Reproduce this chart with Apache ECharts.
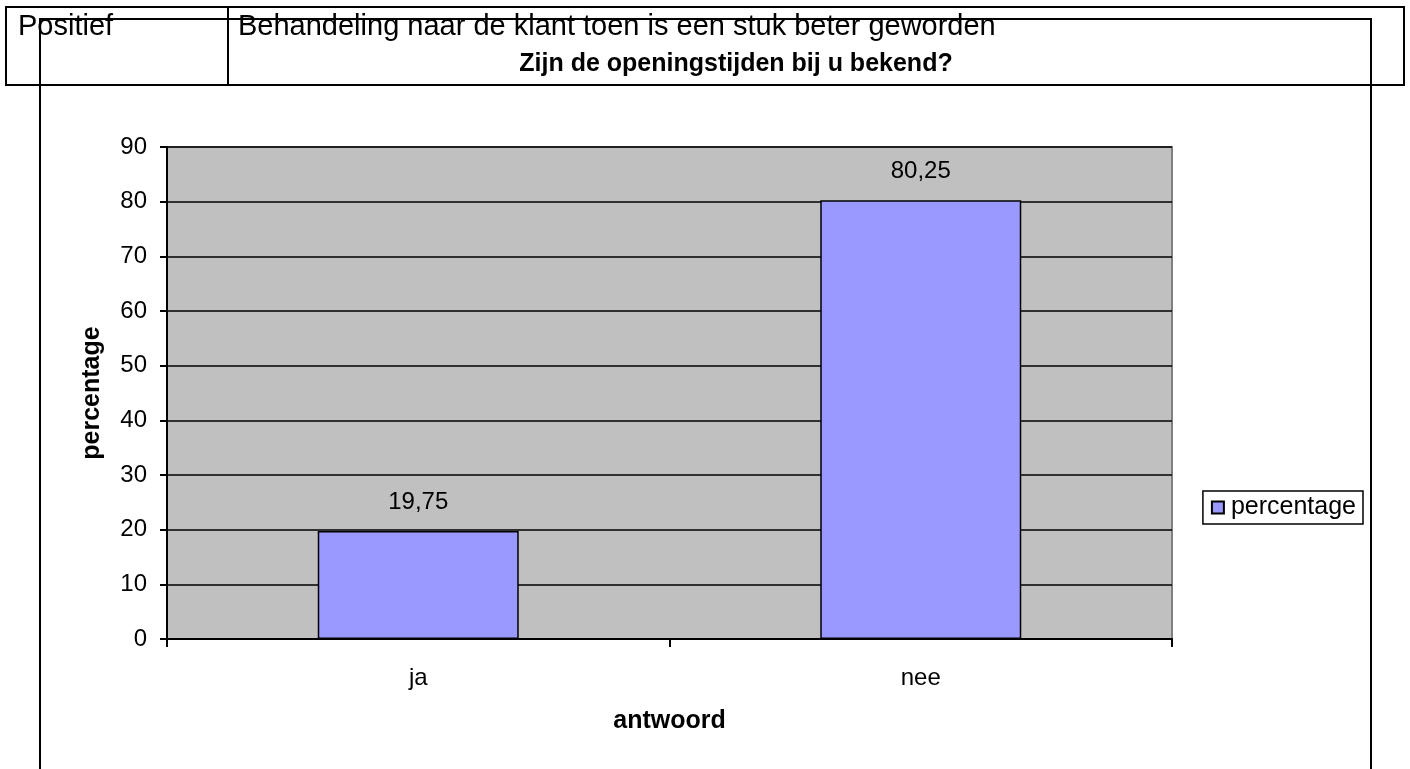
<!DOCTYPE html>
<html>
<head>
<meta charset="utf-8">
<script src="https://cdn.jsdelivr.net/npm/echarts@6/dist/echarts.min.js"></script>
<style>
  html, body { margin: 0; padding: 0; background: #fff; }
  #chart { width: 1410px; height: 769px; }
</style>
</head>
<body>
<div id="chart"></div>
<script>
// data
const categories = ['ja', 'nee'];
const percentages = [19.75, 80.25];
const seriesName = 'percentage';
const titleText = 'Zijn de openingstijden bij u bekend?';
const headerLeft = 'Positief';
const headerRight = 'Behandeling naar de klant toen is een stuk beter geworden';

const FONT = '"Liberation Sans", Arial, sans-serif';

const chart = echarts.init(document.getElementById('chart'), null, { renderer: 'canvas' });

chart.setOption({
  backgroundColor: '#fff',
  animation: false,
  textStyle: { fontFamily: FONT, color: '#000' },
  graphic: [
    // table row on top
    { type: 'rect', z: 1, shape: { x: 6, y: 7, width: 1398, height: 78 },
      style: { fill: 'none', stroke: '#000', lineWidth: 2 } },
    { type: 'line', z: 1, shape: { x1: 228, y1: 7, x2: 228, y2: 85 },
      style: { stroke: '#000', lineWidth: 2 } },
    { type: 'text', z: 2, left: 18, top: 12,
      style: { text: headerLeft, font: '29px ' + FONT, fill: '#000' } },
    { type: 'text', z: 2, left: 238, top: 12,
      style: { text: headerRight, font: '29px ' + FONT, fill: '#000' } },
    // chart frame drawn over the table
    { type: 'rect', z: 3, shape: { x: 40, y: 19, width: 1331, height: 800 },
      style: { fill: 'none', stroke: '#000', lineWidth: 2 } }
  ],
  title: {
    text: titleText,
    left: 731,
    textAlign: 'center',
    top: 47,
    textStyle: { fontFamily: FONT, fontSize: 25, fontWeight: 'bold', color: '#000' }
  },
  legend: {
    data: [seriesName],
    right: 47,
    top: 491,
    icon: 'rect',
    itemWidth: 12,
    itemHeight: 12,
    itemGap: 6,
    padding: [4, 7, 4, 8],
    borderColor: '#000',
    borderWidth: 1.5,
    backgroundColor: '#fff',
    textStyle: { fontFamily: FONT, fontSize: 25, color: '#000', padding: [0, 0, 0, 2] }
  },
  grid: {
    left: 167,
    top: 147,
    right: 238,
    bottom: 130,
    show: true,
    backgroundColor: '#C0C0C0',
    borderColor: '#808080',
    borderWidth: 2
  },
  xAxis: {
    type: 'category',
    data: categories,
    name: 'antwoord',
    nameLocation: 'middle',
    nameGap: 70,
    nameTextStyle: { fontFamily: FONT, fontSize: 25, fontWeight: 'bold', color: '#000' },
    axisLine: { lineStyle: { color: '#000', width: 2 } },
    axisTick: { show: true, length: 8, interval: 0, lineStyle: { color: '#000', width: 2 } },
    axisLabel: { margin: 27, fontFamily: FONT, fontSize: 24, color: '#000' },
    splitLine: { show: false }
  },
  yAxis: {
    type: 'value',
    min: 0,
    max: 90,
    interval: 10,
    name: 'percentage',
    nameLocation: 'middle',
    nameGap: 62,
    nameTextStyle: { fontFamily: FONT, fontSize: 25, fontWeight: 'bold', color: '#000' },
    axisLine: { show: true, lineStyle: { color: '#000', width: 2 } },
    axisTick: { show: true, length: 7, lineStyle: { color: '#000', width: 2 } },
    axisLabel: { margin: 20, fontFamily: FONT, fontSize: 24, color: '#000' },
    splitLine: { show: true, lineStyle: { color: '#000', width: 1.5 } }
  },
  series: [{
    name: seriesName,
    type: 'bar',
    data: percentages,
    barWidth: '40%',
    itemStyle: { color: '#9999FF', borderColor: '#000', borderWidth: 1.5 },
    label: {
      show: true,
      position: 'top',
      distance: 17,
      fontFamily: FONT,
      fontSize: 24,
      color: '#000',
      formatter: p => String(p.value).replace('.', ',')
    }
  }]
});
</script>
</body>
</html>
